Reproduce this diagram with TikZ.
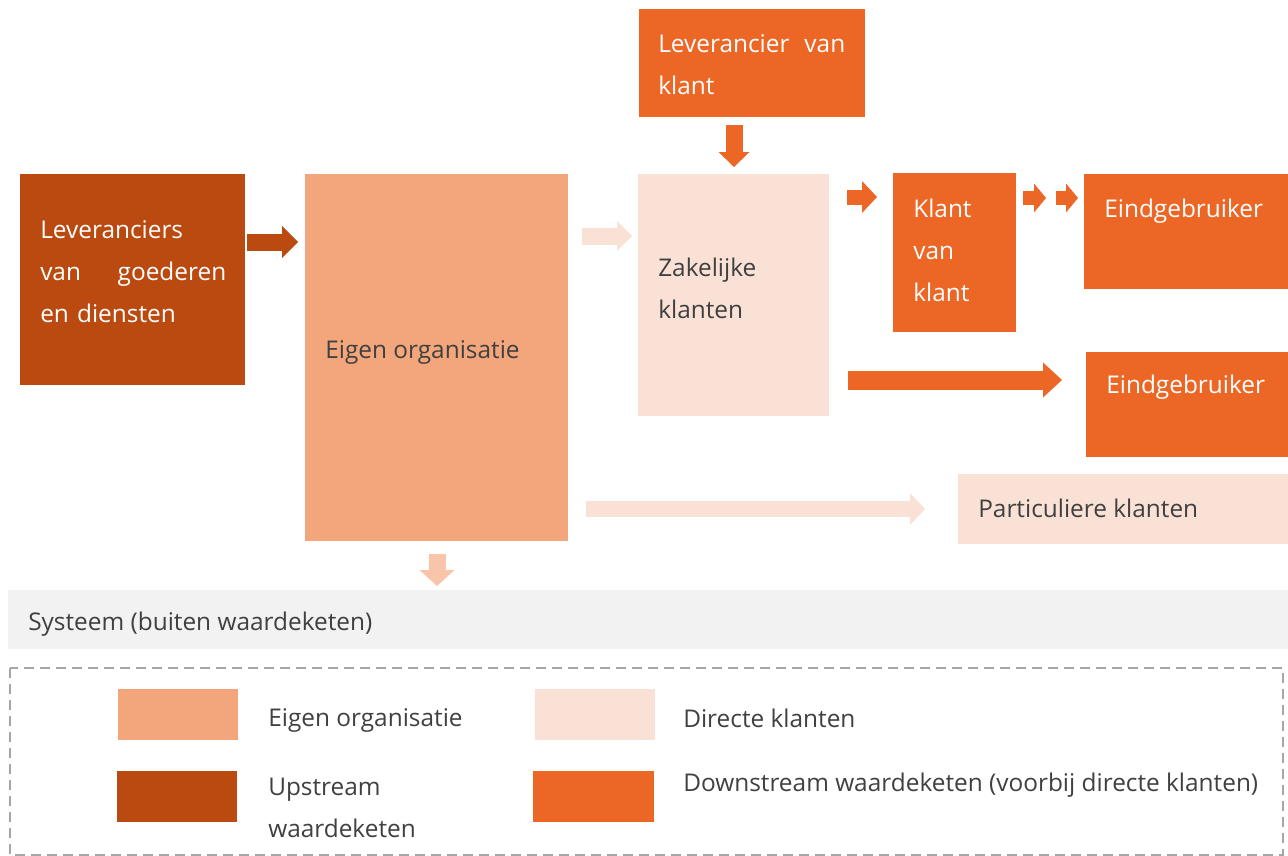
\documentclass[tikz,border=0pt]{standalone}
\usepackage{fontspec}
\setmainfont{Open Sans}
\usetikzlibrary{arrows.meta,positioning}

\definecolor{donker}{HTML}{BA4A0F}
\definecolor{oranje}{HTML}{EC6726}
\definecolor{zalm}{HTML}{F3A67B}
\definecolor{licht}{HTML}{FAE1D5}
\definecolor{pijlzalm}{HTML}{F8C5AA}
\definecolor{grijs}{HTML}{F2F2F2}
\definecolor{tekst}{HTML}{404040}
\definecolor{rand}{HTML}{A6A6A6}

\tikzset{
  vak/.style 2 args={anchor=north west, inner sep=0pt, outer sep=0pt,
    minimum width=#1*0.75pt, minimum height=#2*0.75pt},
  wit/.style={text=white, anchor=west, inner sep=0pt, align=left, text depth=0pt,
    font=\fontsize{18.3}{31.5}\selectfont},
  grijstekst/.style={wit, text=tekst},
  pijl/.style n args={3}{line width=#1,
    -{Triangle[width=#2, length=#3, line width=0pt]}}
}

\begin{document}
\begin{tikzpicture}[x=0.75pt, y=-0.75pt]
    \useasboundingbox (0,0) rectangle (1288,856);

    \node[vak={225}{211}, fill=donker] (lev) at (20,174) {};
    \node[vak={263}{367}, fill=zalm] (eigen) at (305,174) {};
    \node[vak={191}{242}, fill=licht] (zak) at (638,174) {};
    \node[vak={226}{108}, fill=oranje] (levk) at (639,9) {};
    \node[vak={123}{159}, fill=oranje] (kvk) at (893,173) {};
    \node[vak={204}{115}, fill=oranje] (eind1) at (1084,174) {};
    \node[vak={202}{105}, fill=oranje] (eind2) at (1086,352) {};
    \node[vak={330}{70}, fill=licht] (part) at (958,474) {};
    \node[vak={1280}{59}, fill=grijs] (sys) at (8,590) {};

    \node[wit, text width=139.5pt] (levtxt) at (40,229.5) {Leveranciers\\van\hfill goederen\\en diensten};
    \node[grijstekst] (eigentxt) at (325,350) {Eigen organisatie};
    \node[grijstekst] (zaktxt) at (658,288) {Zakelijke\\klanten};
    \node[wit, text width=140.25pt] (levktxt) at (658,43.5) {Leverancier\hfill van\\klant};
    \node[wit] (kvktxt) at (913,250.5) {Klant\\van\\klant};
    \node[wit] (eind1txt) at (1104,208) {Eindgebruiker};
    \node[wit] (eind2txt) at (1106,384) {Eindgebruiker};
    \node[grijstekst] (parttxt) at (978,508) {Particuliere klanten};
    \node[grijstekst] (systxt) at (28,621) {Systeem (buiten waardeketen)};

    \draw[pijl={12.75pt}{24pt}{12pt}, donker, shorten <=1.5pt, shorten >=5.25pt]
        (lev.east |- 0,242) -- (eigen.west |- 0,242);
    \draw[pijl={12.75pt}{22.5pt}{11.25pt}, licht, shorten <=10.5pt, shorten >=4.5pt]
        (eigen.east |- 0,236) -- (zak.west |- 0,236);
    \draw[pijl={12.75pt}{23.25pt}{11.25pt}, oranje, shorten <=6pt, shorten >=5.25pt]
        (levk.south -| 734,0) -- (zak.north -| 734,0);
    \draw[pijl={11.25pt}{24pt}{11.25pt}, oranje, shorten <=13.5pt, shorten >=12pt]
        (zak.east |- 0,197) -- (kvk.west |- 0,197);
    \draw[pijl={10.5pt}{21.75pt}{9pt}, oranje, shorten <=5.25pt, shorten >=28.5pt]
        (kvk.east |- 0,198) -- (eind1.west |- 0,198);
    \draw[pijl={10.5pt}{21.75pt}{9pt}, oranje, shorten <=30pt, shorten >=4.5pt]
        (kvk.east |- 0,198) -- (eind1.west |- 0,198);
    \draw[pijl={14.25pt}{26.25pt}{14.25pt}, oranje, shorten <=14.25pt, shorten >=18pt]
        (zak.east |- 0,380) -- (eind2.west |- 0,380);
    \draw[pijl={12pt}{24pt}{11.25pt}, licht, shorten <=13.5pt, shorten >=24.75pt]
        (eigen.east |- 0,509) -- (part.west |- 0,509);
    \draw[pijl={12.75pt}{26.25pt}{12pt}, pijlzalm, shorten <=9.75pt, shorten >=3pt]
        (eigen.south -| 437,0) -- (sys.north -| 437,0);

    \draw[rand, line width=1.5pt, dash pattern=on 7.5pt off 4.5pt] (10,668) rectangle (1283,855);
    \node[vak={120}{51}, fill=zalm] (legeigen) at (118,689) {};
    \node[vak={120}{51}, fill=donker] (legup) at (117,771) {};
    \node[vak={120}{51}, fill=licht] (legdir) at (535,689) {};
    \node[vak={121}{51}, fill=oranje] (legdown) at (533,771) {};
    \node[grijstekst] (legeigentxt) at (268,718) {Eigen organisatie};
    \node[grijstekst] (leguptxt) at (268,807.5) {Upstream\\waardeketen};
    \node[grijstekst] (legdirtxt) at (683,718) {Directe klanten};
    \node[grijstekst] (legdowntxt) at (683,782) {Downstream waardeketen (voorbij directe klanten)};
\end{tikzpicture}
\end{document}
